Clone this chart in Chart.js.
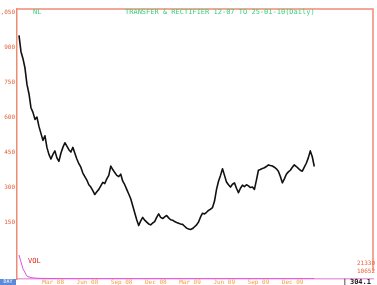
<!DOCTYPE html>
<html>
<head>
<meta charset="utf-8">
<script src="https://cdn.jsdelivr.net/npm/chart.js@4.4.1/dist/chart.umd.min.js"></script>
<style>
  html, body { margin: 0; padding: 0; background: #fff; }
  #c { display: block; }
</style>
</head>
<body>
<canvas id="c" width="377" height="285"></canvas>
<script>
/********** DATI **********/
// prezzi di chiusura, un campione ogni ~0.175 mesi a partire da dic 2007
const prices = [
  950, 880, 850, 810, 740, 700, 640, 620, 590, 600, 560, 530, 500, 520, 470, 440, 420, 440, 455, 425,
  410, 445, 470, 490, 475, 460, 450, 470, 445, 420, 400, 385, 360, 345, 330, 310, 300, 285, 268, 280,
  290, 305, 320, 315, 335, 350, 390, 375, 362, 350, 345, 355, 325, 310, 290, 270, 250, 220, 190, 160,
  135, 155, 170, 158, 150, 142, 138, 146, 152, 170, 185, 170, 165, 172, 178, 168, 160, 158, 152, 148,
  145, 142, 140, 132, 124, 120, 118, 122, 130, 138, 150, 172, 188, 185, 192, 200, 205, 212, 240, 290,
  325, 350, 378, 350, 322, 310, 300, 312, 318, 295, 276, 295, 308, 302, 310, 305, 298, 300, 290, 330,
  372, 375, 380, 383, 388, 395, 392, 390, 385, 378, 368, 345, 318, 335, 355, 365, 372, 385, 395, 388,
  380, 372, 368, 385, 402, 425, 455, 430, 388
];
const priceStep = 0.175;         // mesi tra un prezzo e l'altro
// volumi, un campione ogni ~0.35 mesi
const volumes = [
  21330, 9000, 2500, 1200, 800, 600, 500, 450, 400, 380,
  350, 340, 330, 320, 310, 300, 300, 300, 300, 300,
  300, 300, 300, 300, 300, 300, 300, 300, 300, 300,
  300, 300, 300, 300, 300, 300, 300, 300, 300, 300,
  300, 300, 300, 300, 300, 300, 300, 300, 300, 300,
  300, 300, 300, 300, 300, 300, 300, 300, 300, 300,
  300, 300, 300, 300, 300, 300, 300, 300, 300, 300,
  300, 300, 300, 300, 300
];
const volStep = 0.35;
const yTicks = [150, 300, 450, 600, 750, 900, 1050];
const tickMonths = [3, 6, 9, 12, 15, 18, 21, 24];
const tickLabels = ['Mar 08', 'Jun 08', 'Sep 08', 'Dec 08', 'Mar 09', 'Jun 09', 'Sep 09', 'Dec 09'];
const titleText = 'TRANSFER & RECTIFIER 12-07 TO 25-01-10(Daily)';
const volHigh = '21330';
const volLow = '10652';
const lastPrice = '304.1';

const RED = '#e8603a';
const AXIS = '#f08a78';
const GREEN = '#3ccf7a';
const ORANGE = '#f0a040';
const MAGENTA = '#e050e0';
const FONT = '"DejaVu Sans Mono", monospace';

const pricePts = prices.map((v, i) => ({ x: i * priceStep, y: v }));
const volPts = volumes.map((v, i) => ({ x: i * volStep, y: v }));

/********** TESTI E BORDI EXTRA **********/
const extras = {
  id: 'extras',
  afterDraw(chart) {
    const ctx = chart.ctx;
    const a = chart.chartArea;
    ctx.save();
    // bordo superiore e destro
    ctx.strokeStyle = AXIS;
    ctx.lineWidth = 1.5;
    ctx.beginPath();
    ctx.moveTo(a.left, a.top);
    ctx.lineTo(a.right, a.top);
    ctx.lineTo(a.right, a.bottom - 8);
    ctx.stroke();

    ctx.textBaseline = 'middle';
    ctx.font = '7px ' + FONT;
    ctx.fillStyle = GREEN;
    ctx.textAlign = 'left';
    ctx.fillText('NL', a.left + 16, a.top + 3);
    ctx.fillText(titleText, 125, a.top + 3);

    ctx.fillStyle = '#e02020';
    ctx.fillText('VOL', 28, 261);

    ctx.fillStyle = RED;
    ctx.font = '6px ' + FONT;
    ctx.textAlign = 'right';
    ctx.fillText(volHigh, a.right + 2, 263);
    ctx.fillText(volLow, a.right + 2, 271);

    ctx.fillStyle = '#202020';
    ctx.font = 'bold 7px ' + FONT;
    ctx.fillText(lastPrice, 371, 282);
    ctx.fillText('|', 347, 282);

    // riquadro blu in basso a sinistra
    ctx.fillStyle = '#5a8ad8';
    ctx.fillRect(0, 279, 16, 6);
    ctx.fillStyle = '#fff';
    ctx.font = '5px ' + FONT;
    ctx.textAlign = 'center';
    ctx.fillText('DAY', 8, 282);
    ctx.restore();
  }
};

/********** GRAFICO **********/
new Chart(document.getElementById('c').getContext('2d'), {
  type: 'line',
  data: {
    datasets: [
      {
        label: 'Price',
        data: pricePts,
        yAxisID: 'y',
        borderColor: '#111',
        borderWidth: 1.6,
        pointRadius: 0,
        tension: 0,
        borderJoinStyle: 'round'
      },
      {
        label: 'Volume',
        data: volPts,
        yAxisID: 'vol',
        borderColor: MAGENTA,
        borderWidth: 1,
        pointRadius: 0,
        tension: 0
      }
    ]
  },
  options: {
    responsive: false,
    animation: false,
    parsing: false,
    layout: { padding: { top: 9, right: 4, left: 0, bottom: 0 } },
    plugins: {
      legend: { display: false },
      tooltip: { enabled: false }
    },
    scales: {
      x: {
        type: 'linear',
        min: -0.175,
        max: 31.05,
        grid: { display: false, drawTicks: false },
        border: { display: true, color: '#f0a0e0', width: 1.5 },
        afterBuildTicks: axis => { axis.ticks = tickMonths.map(v => ({ value: v })); },
        afterFit: axis => { axis.height = 6; },
        ticks: {
          autoSkip: false,
          maxRotation: 0,
          padding: 0,
          color: ORANGE,
          font: { family: FONT, size: 6 },
          callback: v => tickLabels[tickMonths.indexOf(v)] || ''
        }
      },
      y: {
        position: 'left',
        min: -94,
        max: 1063,
        grid: { display: false, drawTicks: false },
        border: { display: true, color: AXIS, width: 1.5 },
        afterBuildTicks: axis => { axis.ticks = yTicks.map(v => ({ value: v })); },
        afterFit: axis => { axis.width = 17; },
        ticks: {
          padding: 2,
          color: RED,
          font: { family: FONT, size: 6 }
        }
      },
      vol: {
        display: false,
        min: 0,
        max: 240000
      }
    }
  },
  plugins: [extras]
});
</script>
</body>
</html>
